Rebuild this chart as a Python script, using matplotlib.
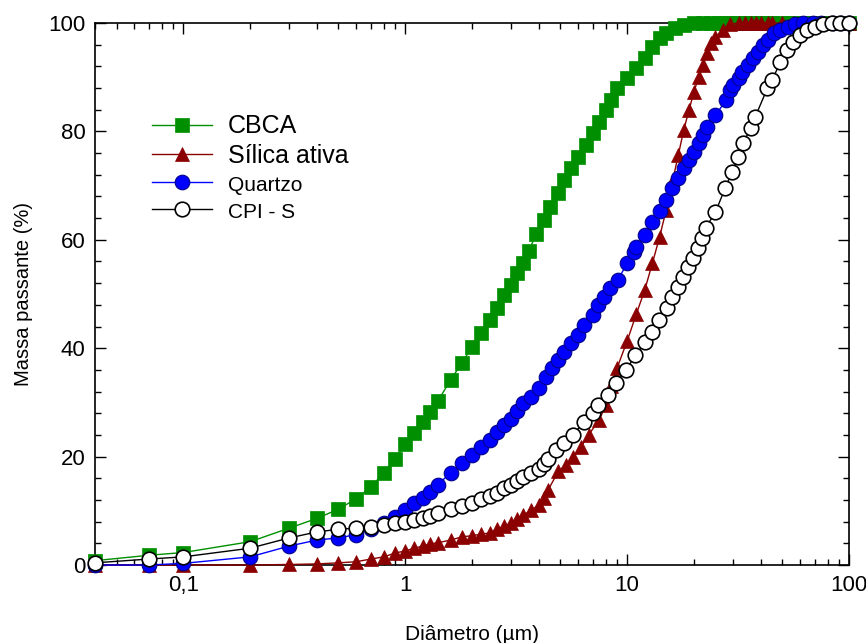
import matplotlib
matplotlib.use("Agg")
import matplotlib.pyplot as plt
from matplotlib.ticker import LogLocator, FixedLocator, FuncFormatter, MultipleLocator, NullFormatter

plt.rcParams['font.family'] = ['Liberation Sans', 'DejaVu Sans']

# ---------------- data ----------------
cbca_x = [0.04, 0.07, 0.1, 0.2, 0.3, 0.4, 0.5, 0.6, 0.7, 0.8, 0.9, 1.0, 1.1, 1.2, 1.3, 1.4,
          1.6, 1.8, 2.0, 2.2, 2.4, 2.6, 2.8, 3.0, 3.2, 3.4, 3.6, 3.9, 4.2, 4.5, 4.9, 5.2,
          5.6, 6.0, 6.5, 7.0, 7.5, 8.0, 8.5, 9.0, 10, 11, 12, 13, 14, 15, 16.5, 18, 20,
          22, 24, 26, 28, 30, 32, 34, 36, 38, 40, 43, 45, 50, 53, 56, 60, 63, 66, 71, 75,
          80, 85, 90, 95, 100]
cbca_y = [0.8, 1.8, 2.3, 4.3, 6.8, 8.6, 10.3, 12.2, 14.4, 17.0, 19.6, 22.3, 24.4, 26.3, 28.3, 30.2,
          34.1, 37.3, 40.2, 42.8, 45.2, 47.4, 49.8, 51.7, 53.9, 55.7, 58.0, 61.0, 63.7, 66.1, 68.6, 71.0,
          73.2, 75.3, 77.5, 79.7, 81.7, 83.9, 85.8, 88.0, 89.9, 91.7, 93.5, 95.6, 97.2, 98.2, 99.1, 99.6, 100,
          100, 100, 100, 100, 100, 100, 100, 100, 100, 100, 100, 100, 100, 100, 100, 100, 100, 100, 100, 100,
          100, 100, 100, 100, 100]

silica_x = [0.04, 0.07, 0.1, 0.2, 0.3, 0.4, 0.5, 0.6, 0.7, 0.8, 0.9, 1.0, 1.1, 1.2, 1.3, 1.4,
            1.6, 1.8, 2.0, 2.2, 2.4, 2.6, 2.8, 3.0, 3.2, 3.4, 3.7, 4.0, 4.2, 4.4, 4.9, 5.3,
            5.7, 6.2, 6.7, 7.5, 8.0, 8.5, 9.0, 10, 11, 12, 13, 14, 15, 16, 17, 18, 19, 20,
            21, 22, 23, 24, 25, 27, 29, 32, 34, 36, 38, 40, 43, 45, 50, 56, 63, 71, 80, 90, 100]
silica_y = [0.0, 0.0, 0.0, 0.0, 0.1, 0.2, 0.4, 0.6, 1.1, 1.5, 2.2, 2.6, 3.1, 3.5, 3.9, 4.1,
            4.6, 5.2, 5.4, 5.7, 5.9, 6.6, 7.2, 7.7, 8.5, 9.2, 10.1, 11.1, 12.4, 13.8, 17.3, 18.5,
            19.9, 21.8, 24.0, 26.8, 29.5, 33.0, 36.3, 41.3, 46.3, 50.7, 55.7, 60.5, 65.5, 70.7, 75.6, 80.3, 83.9, 87.3,
            90.0, 92.3, 94.5, 96.3, 97.4, 98.7, 99.8, 100, 100, 100, 100, 100, 100, 100, 100, 100, 100, 100, 100, 100, 100]

quartzo_x = [0.04, 0.07, 0.1, 0.2, 0.3, 0.4, 0.5, 0.6, 0.7, 0.8, 0.9, 1.0, 1.1, 1.2, 1.3, 1.4,
             1.6, 1.8, 2.0, 2.2, 2.4, 2.6, 2.8, 3.0, 3.2, 3.4, 3.7, 4.0, 4.3, 4.6, 4.9, 5.2,
             5.6, 6.0, 6.4, 7.0, 7.4, 7.9, 8.4, 9.1, 10, 10.7, 11, 12, 13, 14, 15, 16, 17, 18,
             19, 20, 21, 22, 23, 25, 28, 29, 30, 32, 33, 35, 37, 39, 41, 43, 46, 49, 53, 57,
             62, 69, 75, 85, 92, 100]
quartzo_y = [0.0, 0.0, 0.3, 1.5, 3.5, 4.6, 5.0, 5.6, 6.6, 7.7, 8.9, 10.1, 11.4, 12.4, 13.5, 14.8,
             17.0, 18.8, 20.3, 21.8, 23.1, 24.5, 25.8, 27.0, 28.5, 29.9, 31.0, 32.7, 34.7, 36.3, 37.8, 39.3,
             41.0, 42.4, 44.3, 46.1, 48.0, 49.4, 51.1, 52.6, 55.7, 57.7, 58.7, 60.9, 63.3, 65.3, 67.3, 69.6, 71.4, 73.2,
             74.7, 76.2, 77.9, 79.3, 80.8, 83.0, 85.8, 87.6, 88.6, 89.9, 91.0, 92.3, 93.5, 94.6, 95.9, 96.9, 98.2, 98.7, 99.3, 99.8,
             100, 100, 100, 100, 100, 100]

cpi_x = [0.04, 0.07, 0.1, 0.2, 0.3, 0.4, 0.5, 0.6, 0.7, 0.8, 0.9, 1.0, 1.1, 1.2, 1.3, 1.4,
         1.6, 1.8, 2.0, 2.2, 2.4, 2.6, 2.8, 3.0, 3.2, 3.4, 3.7, 4.0, 4.2, 4.4, 4.8, 5.2,
         5.7, 6.4, 7.0, 7.4, 8.2, 8.9, 9.9, 10.9, 12.1, 13, 13.9, 15.2, 16, 16.9, 17.9, 18.9, 19.9, 20.8,
         21.8, 22.6, 25, 27.7, 29.7, 31.6, 33.4, 36, 37.8, 42.9, 45.1, 49, 52.7, 56.1, 60.3, 64.8,
         70.5, 76.6, 84, 91, 100]
cpi_y = [0.4, 1.1, 1.5, 3.1, 5.0, 6.1, 6.6, 6.8, 7.0, 7.4, 7.7, 7.9, 8.3, 8.7, 9.0, 9.6,
         10.3, 10.9, 11.4, 12.2, 12.7, 13.3, 14.2, 14.8, 15.5, 16.2, 17.0, 17.7, 18.6, 19.6, 21.2, 22.5,
         24.0, 26.4, 28.0, 29.5, 31.4, 33.6, 36.0, 38.7, 41.1, 43.0, 45.2, 47.4, 49.4, 51.3, 53.1, 55.0, 56.6, 58.5,
         60.3, 62.2, 65.1, 69.6, 72.5, 75.3, 77.9, 80.6, 82.7, 88.0, 89.5, 92.8, 95.0, 96.5, 97.8, 98.7,
         99.3, 99.8, 100, 100, 100]

labels = ['CBCA', 'Sílica ativa', 'Quartzo', 'CPI - S']
label_sizes = [18, 18, 15, 15]
x_ticks = [0.1, 1, 10, 100]
x_tick_labels = ['0,1', '1', '10', '100']
y_ticks = [0, 20, 40, 60, 80, 100]

# ---------------- figure ----------------
fig = plt.figure(figsize=(8.66, 6.43), dpi=100)
ax = fig.add_axes([0.1097, 0.1213, 0.8707, 0.8429])

green = '#008f00'
dred = '#8b0000'
blue = '#0000ff'

ax.plot(cbca_x, cbca_y, color=green, lw=1.0, marker='s', ms=9.5, mfc=green, mec=green,
        mew=0.5, clip_on=False, label=labels[0], zorder=3)
ax.plot(silica_x, silica_y, color=dred, lw=1.0, marker='^', ms=10.5, mfc=dred, mec=dred,
        mew=0.5, clip_on=False, label=labels[1], zorder=4)
ax.plot(quartzo_x, quartzo_y, color=blue, lw=1.0, marker='o', ms=10.5, mfc=blue, mec='#00008b',
        mew=0.8, clip_on=False, label=labels[2], zorder=5)
ax.plot(cpi_x, cpi_y, color='black', lw=1.0, marker='o', ms=10.5, mfc='white', mec='black',
        mew=1.2, clip_on=False, label=labels[3], zorder=6)

ax.set_xscale('log')
ax.set_xlim(0.04, 100)
ax.set_ylim(0, 100)

ax.xaxis.set_major_locator(FixedLocator(x_ticks))
ax.xaxis.set_major_formatter(FuncFormatter(lambda v, p: x_tick_labels[x_ticks.index(v)] if v in x_ticks else ''))
ax.xaxis.set_minor_locator(LogLocator(base=10, subs=[2, 3, 4, 5, 6, 7, 8, 9], numticks=20))
ax.xaxis.set_minor_formatter(NullFormatter())
ax.yaxis.set_major_locator(FixedLocator(y_ticks))
ax.yaxis.set_minor_locator(MultipleLocator(4))

ax.tick_params(which='both', direction='in', top=True, right=True, width=1.0, colors='black')
ax.tick_params(which='major', length=8, labelsize=16, pad=7)
ax.tick_params(which='minor', length=4)
for s in ax.spines.values():
    s.set_linewidth(1.2)

ax.set_xlabel('Diâmetro (µm)', fontsize=15, labelpad=21)
ax.set_ylabel('Massa passante (%)', fontsize=14.5, labelpad=11)

leg = ax.legend(loc='upper left', bbox_to_anchor=(0.062, 0.85), frameon=False, numpoints=1,
                handlelength=2.4, handletextpad=0.65, labelspacing=0.22, fontsize=18, borderaxespad=0)
for t, s in zip(leg.get_texts(), label_sizes):
    t.set_fontsize(s)

fig.savefig('out.png', dpi=100)
